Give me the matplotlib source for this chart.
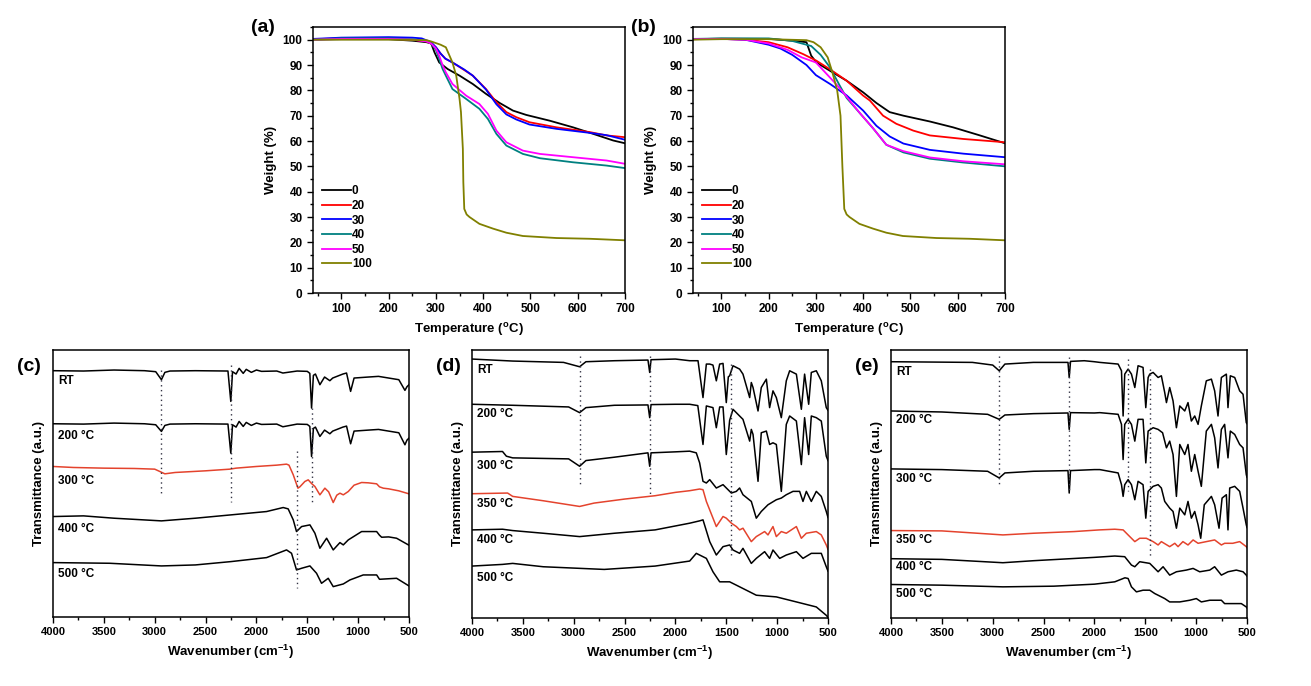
import numpy as np
import matplotlib
matplotlib.use("Agg")
from matplotlib import pyplot as plt
from matplotlib.ticker import MultipleLocator

# ---------------- TGA data, panel (a) ----------------
a_T_0 = [40, 100, 200, 250, 280, 290, 297, 307, 325, 350, 378, 406, 435, 463, 491, 541, 590, 633, 675, 700]
a_W_0 = [100.0, 100.2, 100.2, 99.6, 99.0, 98.5, 95.0, 91.0, 88.4, 85.8, 82.5, 78.6, 75.0, 72.0, 70.3, 68.0, 65.4, 62.8, 60.2, 59.1]
a_T_20 = [40, 100, 200, 250, 280, 290, 300, 310, 320, 335, 360, 378, 406, 428, 449, 470, 498, 555, 626, 661, 700]
a_W_20 = [100.2, 100.5, 100.5, 100.0, 99.3, 98.5, 97.0, 94.5, 92.5, 91.0, 88.0, 85.8, 80.5, 75.3, 71.4, 69.4, 67.4, 65.4, 63.5, 62.2, 61.5]
a_T_30 = [40, 100, 200, 250, 270, 290, 300, 310, 320, 335, 360, 378, 406, 428, 449, 470, 498, 555, 626, 661, 700]
a_W_30 = [100.3, 100.8, 101.0, 100.8, 100.5, 99.0, 97.0, 94.5, 92.5, 91.0, 88.2, 85.8, 80.3, 74.5, 70.5, 68.5, 66.5, 64.8, 63.2, 62.3, 60.5]
a_T_40 = [40, 100, 200, 250, 280, 290, 300, 307, 314, 321, 335, 364, 392, 410, 428, 449, 484, 520, 590, 661, 700]
a_W_40 = [100.0, 100.5, 100.5, 100.2, 99.5, 98.5, 96.0, 92.4, 88.5, 85.8, 80.5, 76.6, 72.7, 68.7, 62.8, 58.2, 54.9, 53.2, 51.6, 50.3, 49.3]
a_T_50 = [40, 100, 200, 250, 280, 290, 300, 307, 314, 321, 335, 364, 392, 410, 428, 449, 484, 520, 590, 661, 700]
a_W_50 = [100.0, 100.3, 100.3, 100.0, 99.3, 98.5, 96.5, 93.7, 90.0, 87.1, 82.5, 77.9, 74.6, 70.7, 64.1, 59.5, 56.2, 54.9, 53.6, 52.3, 51.0]
a_T_100 = [40, 100, 200, 280, 290, 310, 321, 335, 343, 350, 353, 357, 358, 360, 365, 371, 392, 421, 449, 484, 555, 626, 700]
a_W_100 = [100.0, 100.0, 100.0, 99.8, 99.3, 98.0, 97.0, 91.0, 85.8, 76.6, 71.4, 56.9, 43.8, 33.2, 31.0, 30.0, 27.3, 25.4, 23.8, 22.5, 21.7, 21.4, 20.8]

# ---------------- TGA data, panel (b) ----------------
b_T_0 = [40, 100, 200, 250, 280, 290, 301, 329, 365, 400, 428, 456, 485, 541, 590, 647, 700]
b_W_0 = [100.2, 100.4, 100.3, 99.6, 99.0, 93.7, 91.0, 87.8, 83.8, 79.2, 75.0, 71.4, 70.0, 67.7, 65.4, 62.2, 59.1]
b_T_20 = [40, 100, 150, 200, 240, 273, 301, 329, 365, 400, 414, 442, 470, 506, 541, 612, 700]
b_W_20 = [100.2, 100.3, 100.0, 99.0, 97.0, 94.3, 91.7, 88.4, 83.8, 77.9, 76.0, 70.0, 66.8, 64.1, 62.2, 60.8, 59.5]
b_T_30 = [40, 100, 150, 200, 225, 250, 280, 300, 330, 365, 400, 428, 456, 485, 541, 612, 700]
b_W_30 = [100.2, 100.3, 100.0, 98.0, 96.5, 94.0, 90.0, 86.0, 82.5, 78.0, 72.0, 66.0, 61.8, 59.0, 56.5, 55.0, 53.6]
b_T_40 = [40, 100, 200, 250, 290, 310, 330, 350, 365, 393, 421, 449, 485, 541, 612, 700]
b_W_40 = [100.3, 100.5, 100.5, 99.5, 97.5, 94.0, 89.0, 82.0, 77.0, 71.0, 65.0, 58.5, 55.5, 53.0, 51.5, 50.0]
b_T_50 = [40, 100, 150, 200, 240, 270, 300, 315, 345, 365, 393, 421, 449, 485, 541, 612, 700]
b_W_50 = [100.2, 100.3, 100.0, 98.5, 96.0, 93.0, 91.0, 88.0, 82.0, 77.5, 71.0, 65.0, 58.5, 56.0, 53.5, 52.0, 50.8]
b_T_100 = [40, 100, 200, 280, 295, 310, 325, 335, 345, 352, 356, 360, 365, 371, 392, 421, 449, 484, 555, 626, 700]
b_W_100 = [100.0, 100.2, 100.2, 99.8, 99.0, 97.0, 93.0, 87.0, 80.0, 70.0, 50.0, 33.2, 31.0, 30.0, 27.3, 25.4, 23.8, 22.5, 21.7, 21.4, 20.8]

tga_names = ["0", "20", "30", "40", "50", "100"]
tga_colors = ["#000000", "#ff0000", "#0000ff", "#008080", "#ff00ff", "#808000"]

# ---------------- FTIR data (wavenumber, offset transmittance a.u.) ----------------
c_RT = [(4000, 738), (3700, 737), (3400, 740), (3100, 738), (2990, 735), (2934, 711), (2900, 733), (2850, 737),
        (2600, 738), (2280, 737), (2252, 646), (2235, 735), (2200, 728), (2170, 745), (2130, 730), (2100, 742),
        (2050, 733), (2000, 740), (1950, 736), (1800, 737), (1740, 731), (1600, 737), (1500, 736), (1475, 730),
        (1458, 626), (1440, 724), (1420, 728), (1376, 696), (1330, 719), (1278, 708), (1250, 716), (1150, 728),
        (1114, 731), (1074, 676), (1040, 716), (900, 719), (800, 721), (700, 716), (600, 711), (540, 679),
        (520, 690), (500, 696)]
c_200 = [(4000, 579), (3700, 578), (3400, 581), (3100, 579), (2990, 576), (2934, 556), (2900, 574), (2850, 578),
         (2600, 579), (2280, 578), (2252, 491), (2235, 576), (2200, 569), (2170, 586), (2130, 571), (2100, 583),
         (2050, 574), (2000, 581), (1950, 577), (1800, 578), (1740, 570), (1600, 578), (1500, 577), (1475, 571),
         (1458, 481), (1440, 565), (1420, 569), (1376, 541), (1330, 560), (1278, 549), (1250, 557), (1150, 569),
         (1114, 572), (1074, 519), (1040, 557), (900, 560), (800, 562), (700, 557), (600, 552), (540, 516),
         (520, 530), (500, 536)]
c_300 = [(4000, 451), (3800, 448), (3500, 446), (3200, 445), (3000, 443), (2900, 429), (2800, 433), (2500, 438),
         (2260, 443), (2200, 446), (2000, 451), (1800, 455), (1704, 458), (1680, 455), (1638, 426), (1592, 386),
         (1573, 390), (1524, 406), (1491, 411), (1458, 400), (1425, 391), (1376, 366), (1327, 386), (1290, 375),
         (1245, 343), (1210, 365), (1179, 371), (1146, 366), (1097, 376), (1040, 395), (966, 403), (900, 402),
         (818, 399), (790, 390), (753, 386), (700, 384), (600, 378), (500, 369)]
c_400 = [(4000, 301), (3700, 303), (3400, 296), (2934, 288), (2600, 296), (2250, 306), (1900, 316), (1737, 328),
         (1688, 324), (1638, 291), (1606, 256), (1556, 271), (1474, 276), (1425, 251), (1376, 206), (1310, 236),
         (1245, 201), (1179, 223), (1146, 216), (1097, 231), (966, 256), (818, 256), (790, 245), (769, 239),
         (700, 240), (622, 236), (500, 215)]
c_500 = [(4000, 163), (3442, 161), (2934, 153), (2600, 156), (2250, 166), (1900, 178), (1704, 201), (1655, 191),
         (1606, 141), (1556, 146), (1474, 153), (1409, 131), (1360, 101), (1294, 116), (1245, 91), (1146, 99),
         (1081, 111), (950, 126), (818, 126), (790, 113), (622, 116), (500, 93)]
c_dots = [(2934, 741, 371), (2252, 756, 346), (1458, 627, 336), (1606, 496, 86)]
c_labels = ["RT", "200 °C", "300 °C", "400 °C", "500 °C"]
c_label_v = [706, 541, 406, 263, 129]

d_RT = [(4000, 773), (3600, 767), (3100, 763), (2942, 750), (2880, 765), (2600, 768), (2270, 770), (2253, 733),
        (2240, 771), (2000, 773), (1860, 768), (1778, 768), (1729, 658), (1696, 758), (1663, 758), (1631, 755),
        (1598, 708), (1565, 758), (1532, 760), (1500, 643), (1480, 720), (1467, 723), (1434, 753), (1369, 743),
        (1336, 728), (1270, 658), (1254, 703), (1237, 688), (1188, 618), (1156, 688), (1106, 713), (1074, 628),
        (1041, 678), (1008, 658), (959, 598), (910, 708), (877, 738), (811, 728), (762, 623), (730, 728),
        (690, 638), (664, 733), (615, 738), (566, 708), (517, 628), (500, 620)]
d_200 = [(4000, 638), (3600, 635), (3050, 630), (2942, 613), (2880, 628), (2600, 635), (2270, 636), (2253, 598),
         (2240, 637), (2000, 638), (1860, 638), (1780, 634), (1729, 518), (1696, 633), (1631, 628), (1598, 568),
         (1565, 630), (1532, 630), (1500, 488), (1467, 590), (1434, 623), (1369, 603), (1336, 593), (1270, 528),
         (1254, 563), (1237, 548), (1188, 408), (1156, 553), (1106, 558), (1074, 518), (1041, 523), (1008, 518),
         (959, 378), (910, 578), (877, 603), (811, 588), (762, 458), (730, 598), (690, 488), (664, 603),
         (615, 598), (566, 588), (517, 483), (500, 470)]
d_300 = [(4000, 495), (3700, 497), (3662, 483), (3600, 478), (3050, 475), (2942, 453), (2880, 470), (2600, 480),
         (2270, 493), (2253, 453), (2240, 493), (2000, 496), (1860, 498), (1795, 493), (1762, 463), (1729, 408),
         (1696, 403), (1663, 413), (1598, 388), (1532, 398), (1450, 373), (1401, 378), (1369, 388), (1336, 368),
         (1254, 348), (1205, 298), (1156, 318), (1090, 338), (1008, 353), (959, 358), (910, 368), (844, 378),
         (779, 378), (746, 348), (713, 378), (664, 348), (615, 378), (566, 363), (517, 318), (500, 300)]
d_350 = [(4000, 371), (3650, 373), (3600, 363), (3300, 350), (2942, 333), (2800, 343), (2500, 355), (2200, 365),
         (2000, 375), (1860, 380), (1762, 385), (1729, 383), (1696, 348), (1598, 273), (1532, 303), (1500, 298),
         (1450, 283), (1401, 273), (1369, 263), (1336, 268), (1254, 228), (1205, 243), (1123, 258), (1090, 248),
         (1041, 273), (1008, 243), (959, 258), (910, 253), (811, 273), (762, 238), (713, 253), (615, 258),
         (566, 248), (517, 218), (500, 205)]
d_400 = [(4000, 263), (3700, 265), (3600, 261), (3300, 253), (2942, 243), (2600, 253), (2200, 263), (1860, 283),
         (1762, 290), (1729, 293), (1663, 228), (1598, 188), (1532, 213), (1467, 218), (1434, 203), (1369, 193),
         (1336, 208), (1254, 163), (1205, 178), (1123, 198), (1074, 178), (1041, 203), (975, 178), (910, 188),
         (811, 198), (746, 178), (664, 193), (566, 193), (517, 153), (500, 140)]
d_500 = [(4000, 155), (3700, 160), (3600, 163), (3300, 153), (2700, 145), (2200, 155), (1860, 170), (1795, 193),
         (1696, 178), (1631, 138), (1565, 108), (1467, 108), (1401, 98), (1270, 78), (1205, 68), (1008, 63),
         (811, 48), (615, 33), (517, 8), (500, 2)]
d_dots = [(2942, 783, 393), (2253, 783, 368), (1457, 758, 178)]
d_labels = ["RT", "200 °C", "300 °C", "350 °C", "400 °C", "500 °C"]
d_label_v = [741, 610, 453, 340, 233, 118]

e_RT = [(4000, 765), (3200, 763), (3000, 755), (2936, 738), (2880, 758), (2600, 763), (2260, 763), (2248, 718),
        (2235, 766), (2100, 768), (2000, 765), (1947, 763), (1767, 758), (1734, 738), (1718, 603), (1702, 728),
        (1669, 743), (1636, 728), (1603, 688), (1571, 753), (1522, 748), (1495, 628), (1472, 718), (1456, 728),
        (1423, 733), (1374, 718), (1342, 723), (1309, 673), (1292, 643), (1260, 688), (1227, 648), (1194, 568),
        (1161, 633), (1112, 618), (1080, 643), (1047, 588), (1014, 603), (981, 578), (949, 633), (900, 708),
        (850, 713), (818, 678), (785, 603), (752, 718), (703, 728), (687, 628), (664, 723), (621, 718),
        (572, 678), (539, 668), (507, 583), (500, 580)]
e_200 = [(4000, 618), (3500, 615), (3050, 608), (2936, 593), (2880, 606), (2600, 610), (2260, 612), (2248, 563),
         (2235, 613), (2000, 612), (1947, 613), (1767, 608), (1734, 578), (1718, 473), (1702, 578), (1669, 593),
         (1636, 578), (1603, 528), (1571, 593), (1522, 593), (1495, 463), (1472, 558), (1423, 568), (1374, 563),
         (1330, 553), (1292, 508), (1260, 528), (1227, 488), (1194, 363), (1161, 518), (1112, 488), (1080, 518),
         (1047, 438), (1014, 488), (981, 438), (949, 393), (900, 558), (850, 578), (818, 538), (785, 448),
         (752, 563), (720, 578), (687, 478), (664, 558), (621, 548), (572, 518), (539, 508), (507, 428), (500, 420)]
e_300 = [(4000, 445), (3500, 443), (3050, 438), (2936, 418), (2880, 433), (2600, 438), (2260, 440), (2248, 373),
         (2235, 440), (2000, 443), (1947, 443), (1767, 433), (1734, 398), (1718, 363), (1702, 398), (1669, 413),
         (1636, 398), (1603, 353), (1571, 408), (1522, 398), (1495, 298), (1472, 378), (1423, 393), (1374, 398),
         (1342, 388), (1309, 348), (1260, 328), (1227, 318), (1194, 268), (1161, 328), (1112, 308), (1080, 348),
         (1047, 298), (1014, 318), (981, 278), (955, 238), (920, 338), (850, 363), (818, 338), (775, 268),
         (745, 358), (703, 368), (687, 263), (670, 388), (621, 393), (572, 378), (539, 328), (507, 278), (500, 270)]
e_350 = [(4000, 261), (3500, 260), (3000, 250), (2900, 248), (2600, 253), (2200, 258), (1950, 263), (1800, 265),
         (1718, 263), (1669, 248), (1603, 228), (1555, 238), (1490, 238), (1423, 228), (1374, 218), (1342, 228),
         (1260, 213), (1210, 223), (1178, 213), (1130, 228), (1080, 218), (1030, 233), (981, 223), (900, 228),
         (818, 233), (752, 218), (720, 223), (640, 223), (572, 228), (507, 213), (500, 210)]
e_400 = [(4000, 177), (3500, 175), (2900, 165), (2600, 171), (2000, 181), (1800, 185), (1702, 183), (1636, 158),
         (1603, 153), (1555, 168), (1456, 163), (1423, 153), (1374, 138), (1325, 153), (1260, 128), (1194, 138),
         (1097, 143), (1030, 148), (965, 138), (866, 143), (818, 153), (752, 128), (687, 138), (605, 143),
         (539, 138), (507, 128), (500, 125)]
e_500 = [(4000, 100), (3500, 98), (2900, 93), (2400, 95), (2000, 101), (1800, 108), (1700, 120), (1669, 118),
         (1636, 93), (1587, 78), (1522, 83), (1456, 83), (1407, 73), (1374, 68), (1309, 58), (1260, 48),
         (1161, 48), (1063, 53), (998, 58), (949, 48), (866, 53), (752, 53), (720, 43), (556, 43), (507, 33),
         (500, 30)]
e_dots = [(2936, 783, 393), (2248, 778, 373), (1672, 773, 378), (1456, 743, 178)]
e_labels = ["RT", "200 °C", "300 °C", "350 °C", "400 °C", "500 °C"]
e_label_v = [733, 591, 415, 233, 151, 71]

RED = "#e4432d"

plt.rcParams["font.family"] = ["Liberation Sans", "DejaVu Sans"]
plt.rcParams["font.weight"] = "bold"
plt.rcParams["axes.labelweight"] = "bold"
plt.rcParams["mathtext.fontset"] = "custom"
plt.rcParams["mathtext.rm"] = "Liberation Sans:bold"
plt.rcParams["mathtext.it"] = "Liberation Sans:bold"
plt.rcParams["mathtext.bf"] = "Liberation Sans:bold"


def style_axes(ax):
    for sp in ax.spines.values():
        sp.set_linewidth(1.1)
    ax.tick_params(which="both", direction="out", top=False, right=False, width=1.0)
    ax.tick_params(which="major", length=4)
    ax.tick_params(which="minor", length=2)


def plot_tga(ax, series, letter):
    for (T, W), name, col in zip(series, tga_names, tga_colors):
        ax.plot(T, W, color=col, lw=1.3, label=name)
    ax.set_xlim(40, 700)
    ax.set_ylim(0, 105)
    ax.xaxis.set_major_locator(MultipleLocator(100))
    ax.xaxis.set_minor_locator(MultipleLocator(50))
    ax.yaxis.set_major_locator(MultipleLocator(10))
    ax.yaxis.set_minor_locator(MultipleLocator(5))
    style_axes(ax)
    ax.tick_params(labelsize=8.5)
    ax.set_xlabel(r"Temperature ($^{\rm o}$C)", fontsize=9.5, labelpad=4)
    ax.set_ylabel("Weight (%)", fontsize=9.5, labelpad=4)
    ax.legend(loc="upper left", bbox_to_anchor=(0.0, 0.44), frameon=False, fontsize=8.5,
              handlelength=2.4, handletextpad=0.1, labelspacing=0.22, borderpad=0.3)
    ax.text(-0.2, 1.0, letter, transform=ax.transAxes, fontsize=14, fontweight="bold", va="center")


def plot_ftir(ax, traces, colors, dots, labels, label_v, letter):
    for tr, col in zip(traces, colors):
        wn = [p[0] for p in tr]
        v = [p[1] for p in tr]
        ax.plot(wn, v, color=col, lw=1.1)
    for x, y0, y1 in dots:
        ax.plot([x, x], [y0, y1], color="#333344", lw=1.0, ls=(0, (1, 2.5)))
    for lab, yv in zip(labels, label_v):
        ax.text(3950, yv, lab, fontsize=8.5, fontweight="bold", va="center", ha="left")
    ax.set_xlim(4000, 500)
    ax.set_ylim(0, 800)
    ax.xaxis.set_major_locator(MultipleLocator(500))
    ax.xaxis.set_minor_locator(MultipleLocator(250))
    ax.set_yticks([])
    style_axes(ax)
    ax.tick_params(labelsize=8)
    ax.set_xlabel(r"Wavenumber (cm$^{-1}$)", fontsize=9.5, labelpad=4)
    ax.set_ylabel("Transmittance (a.u.)", fontsize=9.5, labelpad=6)
    ax.text(-0.1, 0.94, letter, transform=ax.transAxes, fontsize=14, fontweight="bold", va="center")


fig = plt.figure(figsize=(13.11, 6.86), dpi=100)
W, H = 1311.0, 686.0


def add_ax(l, r, t, b):
    return fig.add_axes([l / W, 1 - b / H, (r - l) / W, (b - t) / H])


axa = add_ax(313, 625, 27, 293)
axb = add_ax(693, 1005, 27, 293)
axc = add_ax(53, 409, 350, 617)
axd = add_ax(472, 828, 350, 618)
axe = add_ax(891, 1247, 350, 618)

plot_tga(axa, [(a_T_0, a_W_0), (a_T_20, a_W_20), (a_T_30, a_W_30), (a_T_40, a_W_40),
               (a_T_50, a_W_50), (a_T_100, a_W_100)], "(a)")
plot_tga(axb, [(b_T_0, b_W_0), (b_T_20, b_W_20), (b_T_30, b_W_30), (b_T_40, b_W_40),
               (b_T_50, b_W_50), (b_T_100, b_W_100)], "(b)")

plot_ftir(axc, [c_RT, c_200, c_300, c_400, c_500], ["k", "k", RED, "k", "k"],
          c_dots, c_labels, c_label_v, "(c)")
plot_ftir(axd, [d_RT, d_200, d_300, d_350, d_400, d_500], ["k", "k", "k", RED, "k", "k"],
          d_dots, d_labels, d_label_v, "(d)")
plot_ftir(axe, [e_RT, e_200, e_300, e_350, e_400, e_500], ["k", "k", "k", RED, "k", "k"],
          e_dots, e_labels, e_label_v, "(e)")

fig.savefig("out.png", dpi=100, facecolor="white")
